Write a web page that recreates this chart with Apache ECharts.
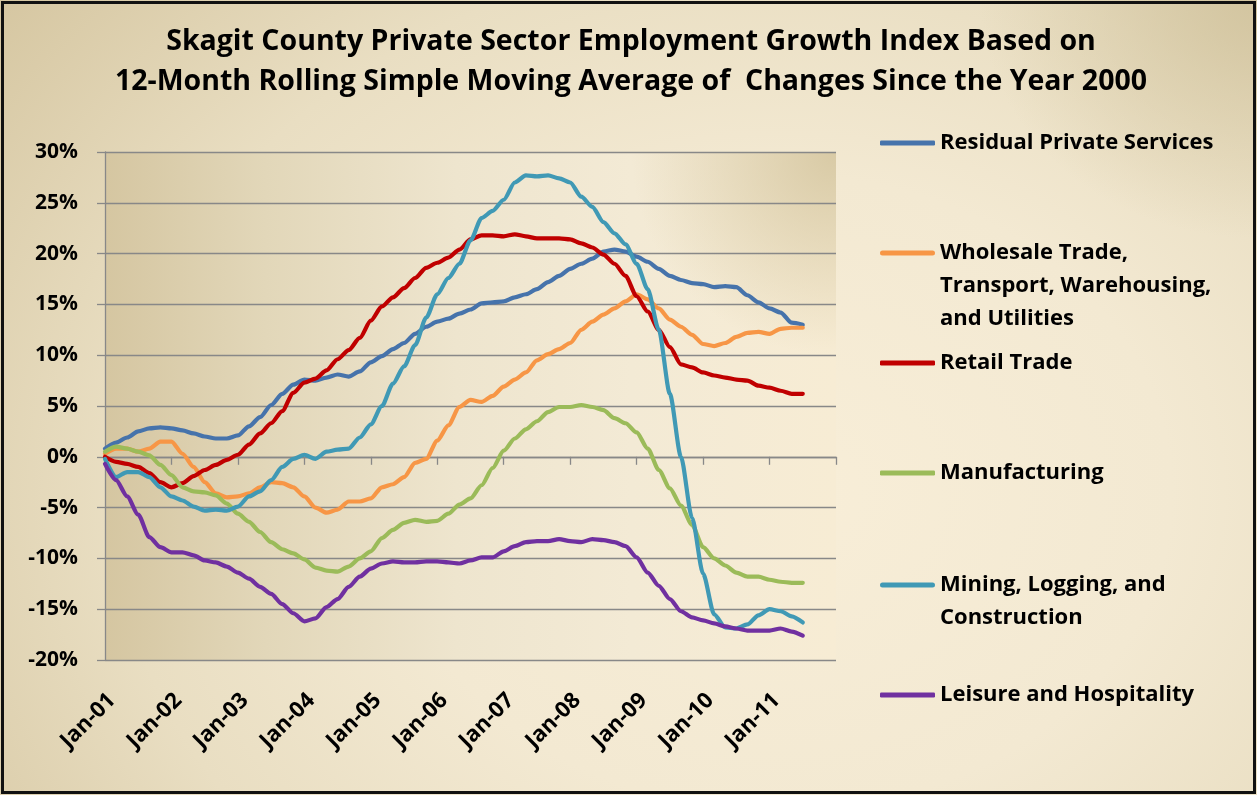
<!DOCTYPE html>
<html>
<head>
<meta charset="utf-8">
<script src="https://cdn.jsdelivr.net/npm/echarts/dist/echarts.min.js"></script>
<style>
html,body{margin:0;padding:0;width:1257px;height:795px;overflow:hidden;background:#fff;}
#bg{position:absolute;left:0;top:0;width:1257px;height:795px;
  background:
    radial-gradient(ellipse 22% 30% at 100% 0%, rgba(208,194,156,0.85) 0%, rgba(208,194,156,0) 100%),
    radial-gradient(ellipse 78% 100% at 62% 62%, #f8eed8 0%, #f3e9d2 40%, #e9dec2 68%, #d6c7a2 100%);}
#plotbg{position:absolute;left:105px;top:152px;width:731px;height:508px;
  background:
    radial-gradient(ellipse 28% 40% at 100% 0%, rgba(211,196,157,0.85) 0%, rgba(211,196,157,0) 100%),
    linear-gradient(90deg, #d5c6a1 0%, #e2d7b9 22%, #eee5ce 48%, #f3ead5 72%, #f7ecd4 100%);}
#chart{position:absolute;left:0;top:0;width:1257px;height:795px;}
#frame{position:absolute;left:1px;top:1px;width:1249px;height:787px;border:3px solid #111;pointer-events:none;}
</style>
</head>
<body>
<div id="bg"></div>
<div id="plotbg"></div>
<div id="chart"></div>
<div id="frame"></div>
<script>
// ---- data (bi-monthly readings, % change) ----
const dates = [
 '2001-01','2001-03','2001-05','2001-07','2001-09','2001-11',
 '2002-01','2002-03','2002-05','2002-07','2002-09','2002-11',
 '2003-01','2003-03','2003-05','2003-07','2003-09','2003-11',
 '2004-01','2004-03','2004-05','2004-07','2004-09','2004-11',
 '2005-01','2005-03','2005-05','2005-07','2005-09','2005-11',
 '2006-01','2006-03','2006-05','2006-07','2006-09','2006-11',
 '2007-01','2007-03','2007-05','2007-07','2007-09','2007-11',
 '2008-01','2008-03','2008-05','2008-07','2008-09','2008-11',
 '2009-01','2009-03','2009-05','2009-07','2009-09','2009-11',
 '2010-01','2010-03','2010-05','2010-07','2010-09','2010-11',
 '2011-01','2011-03','2011-05','2011-07'
];
const seriesNames = [
 'Residual Private Services',
 'Wholesale Trade, Transport, Warehousing, and Utilities',
 'Retail Trade',
 'Manufacturing',
 'Mining, Logging, and Construction',
 'Leisure and Hospitality'
];
const legendLabels = [
 'Residual Private Services',
 'Wholesale Trade,\nTransport, Warehousing,\nand Utilities',
 'Retail Trade',
 'Manufacturing',
 'Mining, Logging, and\nConstruction',
 'Leisure and Hospitality'
];
const residualServices = [
 0.8,1.4,1.9,2.5,2.8,2.9,2.8,2.6,2.3,2.0,1.8,1.8,
 2.1,3.0,3.9,5.1,6.2,7.1,7.6,7.5,7.8,8.1,7.9,8.4,
 9.3,9.9,10.6,11.2,12.1,12.8,13.3,13.6,14.1,14.5,15.1,15.2,
 15.3,15.7,16.0,16.5,17.2,17.8,18.5,19.0,19.5,20.2,20.4,20.2,
 19.7,19.2,18.5,17.8,17.4,17.1,17.0,16.7,16.8,16.7,15.9,15.2,
 14.6,14.2,13.2,13.0
];
const wholesaleTrade = [
 0.3,0.8,0.8,0.5,0.8,1.5,1.5,0.3,-1.0,-2.5,-3.6,-4.0,
 -3.9,-3.6,-3.0,-2.5,-2.6,-3.0,-3.9,-5.0,-5.5,-5.2,-4.4,-4.4,
 -4.1,-3.0,-2.7,-2.0,-0.6,-0.2,1.6,3.1,4.9,5.6,5.4,6.0,
 6.9,7.6,8.3,9.5,10.1,10.6,11.2,12.5,13.3,14.0,14.6,15.3,
 16.0,15.5,14.6,13.5,12.8,12.0,11.1,10.9,11.2,11.8,12.2,12.3,
 12.1,12.6,12.7,12.7
];
const retailTrade = [
 0.0,-0.5,-0.7,-1.0,-1.6,-2.5,-3.0,-2.6,-1.9,-1.3,-0.8,-0.3,
 0.2,1.2,2.3,3.3,4.5,6.3,7.3,7.7,8.5,9.6,10.5,11.7,
 13.4,14.8,15.7,16.6,17.6,18.6,19.1,19.6,20.4,21.4,21.8,21.8,
 21.7,21.9,21.7,21.5,21.5,21.5,21.4,21.0,20.6,19.9,19.0,17.8,
 15.8,14.3,12.5,10.8,9.1,8.8,8.3,8.0,7.8,7.6,7.5,7.0,
 6.8,6.5,6.2,6.2
];
const manufacturing = [
 0.5,1.0,0.8,0.5,0.15,-0.8,-1.8,-3.0,-3.4,-3.5,-3.8,-4.6,
 -5.6,-6.4,-7.4,-8.4,-9.1,-9.5,-10.1,-10.9,-11.2,-11.3,-10.8,-10.0,
 -9.3,-8.0,-7.2,-6.5,-6.2,-6.4,-6.3,-5.6,-4.7,-4.1,-2.8,-1.1,
 0.6,1.8,2.7,3.5,4.4,4.9,4.9,5.1,4.9,4.6,3.8,3.3,
 2.4,0.8,-1.3,-3.1,-4.8,-6.7,-8.9,-10.0,-10.7,-11.4,-11.8,-11.8,
 -12.1,-12.3,-12.4,-12.4
];
const miningConstruction = [
 -0.2,-2.0,-1.5,-1.5,-2.0,-3.0,-3.9,-4.3,-4.9,-5.3,-5.2,-5.3,
 -4.9,-3.9,-3.4,-2.3,-1.0,-0.2,0.2,-0.2,0.5,0.7,0.8,1.9,
 3.2,5.0,7.2,8.9,11.0,13.7,16.0,17.6,19.0,21.3,23.5,24.2,
 25.3,27.0,27.7,27.6,27.7,27.4,27.0,25.6,24.6,23.1,22.0,20.9,
 19.0,16.5,12.5,6.2,0.0,-6.0,-11.5,-15.5,-16.8,-16.9,-16.5,-15.6,
 -15.0,-15.2,-15.7,-16.3
];
const leisureHospitality = [
 -0.7,-2.3,-3.9,-5.7,-7.9,-8.9,-9.4,-9.4,-9.7,-10.2,-10.4,-10.8,
 -11.4,-12.0,-12.8,-13.5,-14.5,-15.4,-16.2,-15.9,-14.8,-14.0,-12.8,-11.8,
 -11.0,-10.5,-10.3,-10.4,-10.4,-10.3,-10.3,-10.4,-10.5,-10.2,-9.9,-9.9,
 -9.3,-8.8,-8.4,-8.3,-8.3,-8.1,-8.3,-8.4,-8.1,-8.2,-8.4,-8.8,
 -9.9,-11.4,-12.7,-14.0,-15.2,-15.8,-16.1,-16.4,-16.7,-16.9,-17.1,-17.1,
 -17.1,-16.9,-17.2,-17.6
];
const yearLabels = ['Jan-01','Jan-02','Jan-03','Jan-04','Jan-05','Jan-06','Jan-07','Jan-08','Jan-09','Jan-10','Jan-11'];
const colors = ['#4673ab','#f79646','#c00000','#9bbb59','#4099b5','#7030a0'];
const allValues = [residualServices, wholesaleTrade, retailTrade, manufacturing, miningConstruction, leisureHospitality];

// month offset from Jan-01 (x scale of the value axis)
function monthIndex(d){ const p = d.split('-'); return (+p[0]-2001)*12 + (+p[1]-1); }

const FONT = '"Open Sans", Lato, sans-serif';
const chart = echarts.init(document.getElementById('chart'), null, {renderer:'canvas'});

const legendTops = [126.5, 236.5, 346.5, 456.5, 568.5, 678.5];
const legendLines = [1,3,1,1,2,1];
function barIcon(h){
  // bar at first-line centre (16.5), invisible points fix the box height
  return 'path://M0,0L0.01,0M2.5,14L52.5,14A2.5,2.5,0,0,1,52.5,19L2.5,19A2.5,2.5,0,0,1,2.5,14ZM0,'+h+'L0.01,'+h;
}
const legends = seriesNames.map((n,i)=>{
  const lines = legendLines[i];
  const multi = lines > 1;
  return {
    data:[n], left:880, top:legendTops[i], padding:0, orient:'vertical',
    itemWidth:55, itemHeight: multi ? lines*33 : 5,
    icon: multi ? barIcon(lines*33) : 'roundRect',
    itemStyle:{borderWidth:0},
    formatter: ()=>legendLabels[i],
    textStyle:{fontFamily:FONT, fontWeight:'bold', fontSize:22, color:'#000', lineHeight:33}
  };
});

const axisGrey = '#888888';
const option = {
  animation:false,
  backgroundColor:'transparent',
  title:{
    text:'Skagit County Private Sector Employment Growth Index Based on\n12-Month Rolling Simple Moving Average of  Changes Since the Year 2000',
    left:631, top:22, padding:0, textAlign:'center',
    textStyle:{fontFamily:FONT, fontWeight:'bold', fontSize:28.5, color:'#000', lineHeight:40}
  },
  legend: legends,
  grid:[
    {left:105, right:421, top:152, bottom:135, outerBoundsMode:'none', containLabel:false, show:false},
    // label carrier, shifted like the reference's date labels
    {left:112, right:414, top:152, bottom:135, outerBoundsMode:'none', containLabel:false, show:false}
  ],
  xAxis:[
    {type:'value', gridIndex:0, min:0, max:132, interval:12, position:'bottom',
     axisLine:{show:true, onZero:true, lineStyle:{color:axisGrey, width:1.3}},
     axisTick:{show:true, inside:false, length:8, lineStyle:{color:axisGrey, width:1.3}},
     axisLabel:{show:false}, splitLine:{show:false}},
    {type:'value', gridIndex:1, min:0, max:132, interval:12, position:'bottom',
     axisLine:{show:false, onZero:false}, axisTick:{show:false}, splitLine:{show:false},
     axisLabel:{show:true, rotate:45, margin:37, color:'#000', fontFamily:FONT, fontWeight:'bold', fontSize:22,
       formatter:(v)=> yearLabels[Math.round(v/12)] || ''}}
  ],
  yAxis:[
    {type:'value', gridIndex:0, min:-20, max:30, interval:5,
     axisLine:{show:true, lineStyle:{color:axisGrey, width:1.3}},
     axisTick:{show:true, inside:false, length:8, lineStyle:{color:axisGrey, width:1.3}},
     splitLine:{show:true, lineStyle:{color:axisGrey, width:1.3}},
     axisLabel:{margin:27, color:'#000', fontFamily:FONT, fontWeight:'bold', fontSize:21, formatter:'{value}%'}},
    {type:'value', gridIndex:1, min:-20, max:30, interval:5, show:false}
  ],
  series: seriesNames.map((n,i)=>({
    name:n, type:'line', xAxisIndex:0, yAxisIndex:0, showSymbol:false, symbol:'none',
    smooth:0.25, smoothMonotone:'x',
    color:colors[i],
    lineStyle:{width:4.2, color:colors[i], cap:'round', join:'round'},
    data: dates.map((d,k)=>[monthIndex(d), allValues[i][k]])
  }))
};
chart.setOption(option);
</script>
</body>
</html>
